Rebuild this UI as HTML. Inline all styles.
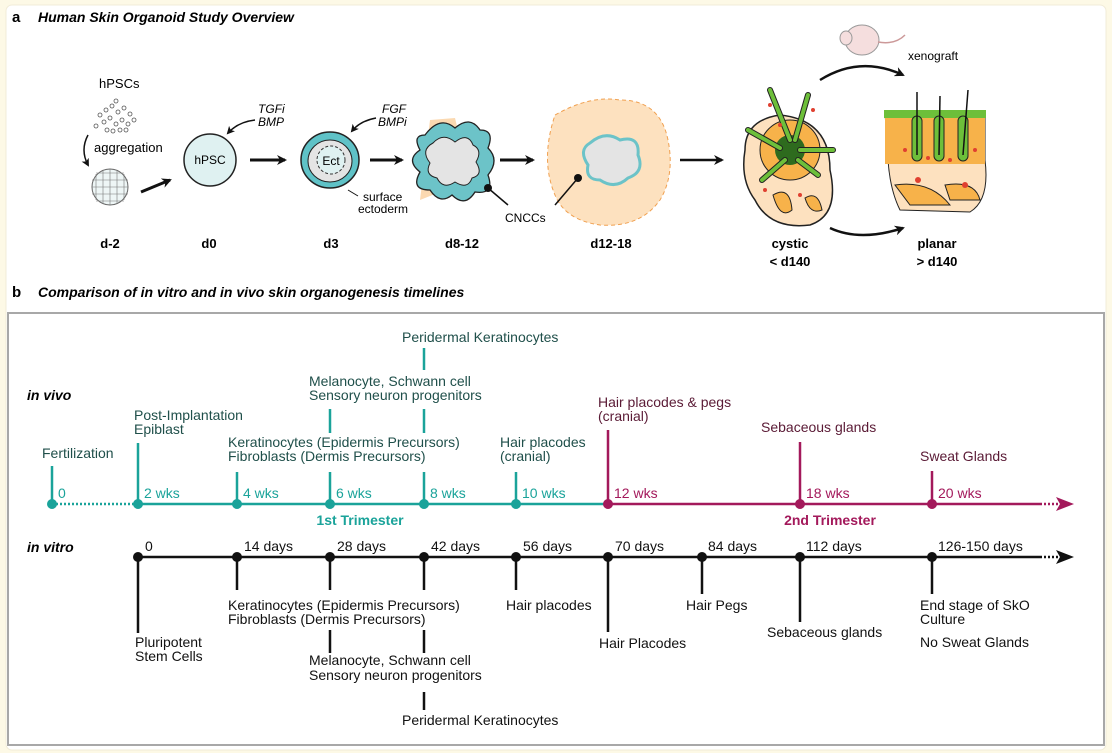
<!DOCTYPE html>
<html><head><meta charset="utf-8"><style>
html,body{margin:0;padding:0;background:#fdf9e6;}
svg{display:block;font-family:"Liberation Sans",Arial,sans-serif;}
</style></head><body>
<svg width="1112" height="753" viewBox="0 0 1112 753" xmlns="http://www.w3.org/2000/svg">
<defs>
<marker id="ah" markerWidth="10" markerHeight="10" refX="8" refY="5" orient="auto" markerUnits="userSpaceOnUse"><path d="M0,0 L10,5 L0,10 L3,5 z" fill="#111"/></marker>
<marker id="ahs" markerWidth="8" markerHeight="8" refX="6" refY="4" orient="auto" markerUnits="userSpaceOnUse"><path d="M0,0 L8,4 L0,8 L2,4 z" fill="#111"/></marker>
</defs>
<rect x="6" y="5" width="1100" height="745" rx="6" fill="#fff" stroke="#f1ecd8"/>
<text x="12" y="22" font-size="15" font-weight="bold">a</text>
<text x="38" y="22" font-size="14" font-weight="bold" font-style="italic">Human Skin Organoid Study Overview</text>
<text x="12" y="297" font-size="15" font-weight="bold">b</text>
<text x="38" y="297" font-size="14" font-weight="bold" font-style="italic">Comparison of in vitro and in vivo skin organogenesis timelines</text>

<!-- panel a -->
<g font-size="13">
<text x="99" y="88">hPSCs</text>
<g fill="none" stroke="#555" stroke-width="0.8">
<circle cx="100" cy="115" r="2"/><circle cx="106" cy="110" r="2"/><circle cx="112" cy="106" r="2"/><circle cx="118" cy="112" r="2"/><circle cx="124" cy="108" r="2"/><circle cx="130" cy="114" r="2"/><circle cx="104" cy="122" r="2"/><circle cx="110" cy="118" r="2"/><circle cx="116" cy="124" r="2"/><circle cx="122" cy="120" r="2"/><circle cx="128" cy="124" r="2"/><circle cx="96" cy="126" r="2"/><circle cx="113" cy="131" r="2"/><circle cx="120" cy="130" r="2"/><circle cx="107" cy="130" r="2"/><circle cx="126" cy="130" r="2"/><circle cx="116" cy="101" r="2"/><circle cx="134" cy="120" r="2"/>
</g>
<path d="M88,135 Q80,150 88,165" fill="none" stroke="#111" stroke-width="1.5" marker-end="url(#ahs)"/>
<text x="94" y="152">aggregation</text>
<circle cx="110" cy="187" r="18" fill="#eef6f6" stroke="#666"/>
<g fill="none" stroke="#777" stroke-width="0.6">
<path d="M92,180 H128 M92,187 H128 M92,194 H128 M96,173 H124 M96,201 H124"/>
<path d="M103,170 V204 M110,169 V205 M117,170 V204 M96,174 V200 M124,174 V200"/>
</g>
<line x1="141" y1="192" x2="170" y2="180" stroke="#111" stroke-width="3" marker-end="url(#ah)"/>
<circle cx="210" cy="160" r="26" fill="#dff1f1" stroke="#222" stroke-width="1.5"/>
<text x="210" y="164" text-anchor="middle" font-size="12">hPSC</text>
<text x="258" y="113" font-style="italic" font-size="12">TGFi</text><text x="258" y="126" font-style="italic" font-size="12">BMP</text>
<path d="M255,120 Q238,122 228,133" fill="none" stroke="#111" stroke-width="1.5" marker-end="url(#ahs)"/>
<line x1="250" y1="160" x2="285" y2="160" stroke="#111" stroke-width="3" marker-end="url(#ah)"/>
<ellipse cx="330" cy="160" rx="29" ry="28" fill="#5fc2c7" stroke="#222" stroke-width="1.5"/>
<ellipse cx="330" cy="161" rx="22" ry="21" fill="#e4e4e4" stroke="#222"/>
<circle cx="331" cy="160" r="14" fill="#dff1f1" stroke="#333" stroke-dasharray="3,2"/>
<text x="331" y="165" text-anchor="middle" font-size="12">Ect</text>
<text x="382" y="113" font-style="italic" font-size="12">FGF</text><text x="378" y="126" font-style="italic" font-size="12">BMPi</text>
<path d="M376,118 Q360,121 352,131" fill="none" stroke="#111" stroke-width="1.5" marker-end="url(#ahs)"/>
<path d="M348,190 L358,196" stroke="#111"/>
<text x="363" y="201" font-size="12">surface</text><text x="358" y="213" font-size="12">ectoderm</text>
<line x1="370" y1="160" x2="402" y2="160" stroke="#111" stroke-width="3" marker-end="url(#ah)"/>
<path d="M430,120 L455,118 L470,180 L420,200 z" fill="#fbd9b1"/>
<path d="M425,135 Q440,115 455,128 Q470,115 480,130 Q495,130 488,148 Q500,160 488,175 Q495,195 475,192 Q465,208 452,195 Q440,205 430,190 Q410,190 420,172 Q405,160 420,150 Q412,135 425,135z" fill="#6cc3c8" stroke="#222" stroke-width="1.3"/>
<path d="M433,143 Q443,132 455,142 Q468,132 473,145 Q483,150 476,162 Q484,175 472,178 Q468,190 455,182 Q443,190 437,178 Q424,175 430,163 Q420,150 433,143z" fill="#e4e4e4" stroke="#222"/>
<circle cx="488" cy="188" r="4" fill="#111"/><line x1="488" y1="188" x2="508" y2="205" stroke="#111" stroke-width="1.5"/>
<text x="505" y="222" font-size="12">CNCCs</text>
<line x1="500" y1="160" x2="533" y2="160" stroke="#111" stroke-width="3" marker-end="url(#ah)"/>
<path d="M555,115 Q590,95 620,100 Q660,100 668,140 Q675,175 660,200 Q640,228 600,225 Q565,220 555,195 Q540,160 555,115z" fill="#fde1bf" stroke="#f0a050" stroke-dasharray="4,3"/>
<path d="M590,143 Q605,130 620,140 Q640,135 638,155 Q645,172 628,178 Q615,190 600,180 Q585,180 588,165 Q578,150 590,143z" fill="#e4e4e4" stroke="#6cc3c8" stroke-width="3"/>
<circle cx="578" cy="178" r="4" fill="#111"/><line x1="578" y1="178" x2="555" y2="205" stroke="#111" stroke-width="1.5"/>
<line x1="680" y1="160" x2="722" y2="160" stroke="#111" stroke-width="2.5" marker-end="url(#ah)"/>
<!-- cystic -->
<path d="M745,150 Q745,120 780,115 Q830,120 830,170 Q840,215 810,225 Q770,230 755,200 Q740,180 745,150z" fill="#fde1bf" stroke="#222" stroke-width="1.5"/>
<circle cx="790" cy="150" r="30" fill="#f7b24a" stroke="#222"/>
<circle cx="790" cy="150" r="15" fill="#2e6b1e"/>
<g stroke="#222" stroke-width="6" fill="none" stroke-linecap="round">
<path d="M790,140 L770,90 M795,140 L808,95 M780,148 L748,130 M800,150 L833,150 M785,160 L762,180 M798,160 L818,175"/>
</g>
<g stroke="#6dbf3a" stroke-width="4" fill="none" stroke-linecap="round">
<path d="M790,140 L770,90 M795,140 L808,95 M780,148 L748,130 M800,150 L833,150 M785,160 L762,180 M798,160 L818,175"/>
</g>
<path d="M773,195 Q790,185 792,210 Q780,220 773,195z M805,198 Q818,190 822,210 Q810,215 805,198z" fill="#f7b24a" stroke="#222"/>
<g fill="#e04030"><circle cx="770" cy="105" r="2"/><circle cx="813" cy="110" r="2"/><circle cx="765" cy="190" r="2"/><circle cx="800" cy="195" r="2"/><circle cx="780" cy="125" r="2"/></g>
<path d="M820,80 Q860,55 903,75" fill="none" stroke="#111" stroke-width="2.5" marker-end="url(#ah)"/>
<ellipse cx="862" cy="40" rx="17" ry="15" fill="#f5dede" stroke="#999"/>
<ellipse cx="846" cy="38" rx="6" ry="7" fill="#f5dede" stroke="#999"/>
<path d="M878,42 Q895,45 905,35" fill="none" stroke="#c99" stroke-width="1.5"/>
<text x="908" y="60" font-size="12">xenograft</text>
<!-- planar -->
<path d="M885,112 L985,112 L985,160 Q990,200 970,212 L900,210 Q890,190 888,160z" fill="#fde1bf" stroke="#222"/>
<rect x="885" y="118" width="100" height="46" fill="#f7b24a"/>
<rect x="884" y="110" width="102" height="8" fill="#6dbf3a"/>
<g fill="#6dbf3a" stroke="#222"><rect x="912" y="116" width="10" height="45" rx="5"/><rect x="934" y="116" width="10" height="45" rx="5"/><rect x="958" y="116" width="10" height="45" rx="5"/></g>
<g stroke="#111" stroke-width="1.5"><line x1="917" y1="155" x2="917" y2="92"/><line x1="939" y1="155" x2="940" y2="96"/><line x1="963" y1="155" x2="968" y2="90"/></g>
<path d="M895,185 Q930,180 950,205 L910,205z M945,185 Q975,180 980,200 L950,200z" fill="#f7b24a" stroke="#222"/>
<g fill="#e04030"><circle cx="905" cy="150" r="2"/><circle cx="928" cy="158" r="2"/><circle cx="950" cy="160" r="2"/><circle cx="975" cy="150" r="2"/><circle cx="965" cy="185" r="3"/><circle cx="918" cy="180" r="3"/></g>
<path d="M830,228 Q860,242 903,228" fill="none" stroke="#111" stroke-width="2.5" marker-end="url(#ah)"/>
</g>
<g font-size="13" font-weight="bold" text-anchor="middle">
<text x="110" y="248">d-2</text><text x="209" y="248">d0</text><text x="331" y="248">d3</text><text x="462" y="248">d8-12</text><text x="611" y="248">d12-18</text>
<text x="790" y="248">cystic</text><text x="790" y="266">&lt; d140</text>
<text x="937" y="248">planar</text><text x="937" y="266">&gt; d140</text>
</g>

<!-- panel b -->
<rect x="8" y="313" width="1096" height="432" fill="#fff" stroke="#a8a8a8" stroke-width="2"/>
<g font-size="14">
<text x="27" y="400" font-weight="bold" font-style="italic">in vivo</text>
<text x="27" y="552" font-weight="bold" font-style="italic">in vitro</text>
<line x1="52" y1="504" x2="138" y2="504" stroke="#1aa39a" stroke-width="2.5" stroke-dasharray="2,2"/>
<line x1="138" y1="504" x2="608" y2="504" stroke="#1aa39a" stroke-width="2.5"/>
<line x1="608" y1="504" x2="1040" y2="504" stroke="#a3195b" stroke-width="2.5"/>
<line x1="1040" y1="504" x2="1060" y2="504" stroke="#a3195b" stroke-width="2.5" stroke-dasharray="2,2"/>
<path d="M1056,497 L1074,504 L1056,511 L1060,504z" fill="#a3195b"/>
<g stroke="#1aa39a" stroke-width="2.5">
<line x1="52" y1="466" x2="52" y2="504"/><line x1="138" y1="443" x2="138" y2="504"/><line x1="237" y1="472" x2="237" y2="504"/>
<line x1="330" y1="472" x2="330" y2="504"/><line x1="330" y1="409" x2="330" y2="433"/>
<line x1="424" y1="472" x2="424" y2="504"/><line x1="424" y1="409" x2="424" y2="433"/><line x1="424" y1="348" x2="424" y2="370"/>
<line x1="516" y1="472" x2="516" y2="504"/>
</g>
<g stroke="#a3195b" stroke-width="2.5"><line x1="608" y1="430" x2="608" y2="504"/><line x1="800" y1="442" x2="800" y2="504"/><line x1="932" y1="471" x2="932" y2="504"/></g>
<g fill="#1aa39a"><circle cx="52" cy="504" r="5"/><circle cx="138" cy="504" r="5"/><circle cx="237" cy="504" r="5"/><circle cx="330" cy="504" r="5"/><circle cx="424" cy="504" r="5"/><circle cx="516" cy="504" r="5"/></g>
<g fill="#a3195b"><circle cx="608" cy="504" r="5"/><circle cx="800" cy="504" r="5"/><circle cx="932" cy="504" r="5"/></g>
<g fill="#1aa39a"><text x="58" y="498">0</text><text x="144" y="498">2 wks</text><text x="243" y="498">4 wks</text><text x="336" y="498">6 wks</text><text x="430" y="498">8 wks</text><text x="522" y="498">10 wks</text>
<text x="360" y="525" font-weight="bold" text-anchor="middle">1st Trimester</text></g>
<g fill="#a3195b"><text x="614" y="498">12 wks</text><text x="806" y="498">18 wks</text><text x="938" y="498">20 wks</text>
<text x="830" y="525" font-weight="bold" text-anchor="middle">2nd Trimester</text></g>
<g fill="#1f4f4a">
<text x="42" y="458">Fertilization</text>
<text x="134" y="420">Post-Implantation</text><text x="134" y="434">Epiblast</text>
<text x="228" y="447">Keratinocytes (Epidermis Precursors)</text><text x="228" y="461">Fibroblasts (Dermis Precursors)</text>
<text x="309" y="386">Melanocyte, Schwann cell</text><text x="309" y="400">Sensory neuron progenitors</text>
<text x="402" y="342">Peridermal Keratinocytes</text>
<text x="500" y="447">Hair placodes</text><text x="500" y="461">(cranial)</text>
</g>
<g fill="#5a1a35">
<text x="598" y="407">Hair placodes &amp; pegs</text><text x="598" y="421">(cranial)</text>
<text x="761" y="432">Sebaceous glands</text>
<text x="920" y="461">Sweat Glands</text>
</g>
<line x1="138" y1="557" x2="1040" y2="557" stroke="#111" stroke-width="2.5"/>
<line x1="1040" y1="557" x2="1060" y2="557" stroke="#111" stroke-width="2.5" stroke-dasharray="2,2"/>
<path d="M1056,550 L1074,557 L1056,564 L1060,557z" fill="#111"/>
<g stroke="#111" stroke-width="2.5">
<line x1="138" y1="557" x2="138" y2="633"/><line x1="237" y1="557" x2="237" y2="590"/>
<line x1="330" y1="557" x2="330" y2="590"/><line x1="330" y1="630" x2="330" y2="653"/>
<line x1="424" y1="557" x2="424" y2="590"/><line x1="424" y1="630" x2="424" y2="653"/><line x1="424" y1="692" x2="424" y2="710"/>
<line x1="516" y1="557" x2="516" y2="590"/><line x1="608" y1="557" x2="608" y2="632"/>
<line x1="702" y1="557" x2="702" y2="594"/><line x1="800" y1="557" x2="800" y2="622"/><line x1="932" y1="557" x2="932" y2="594"/>
</g>
<g fill="#111"><circle cx="138" cy="557" r="5"/><circle cx="237" cy="557" r="5"/><circle cx="330" cy="557" r="5"/><circle cx="424" cy="557" r="5"/><circle cx="516" cy="557" r="5"/><circle cx="608" cy="557" r="5"/><circle cx="702" cy="557" r="5"/><circle cx="800" cy="557" r="5"/><circle cx="932" cy="557" r="5"/></g>
<g fill="#111">
<text x="145" y="551">0</text><text x="244" y="551">14 days</text><text x="337" y="551">28 days</text><text x="431" y="551">42 days</text><text x="523" y="551">56 days</text>
<text x="615" y="551">70 days</text><text x="708" y="551">84 days</text><text x="806" y="551">112 days</text><text x="938" y="551">126-150 days</text>
<text x="135" y="647">Pluripotent</text><text x="135" y="661">Stem Cells</text>
<text x="228" y="610">Keratinocytes (Epidermis Precursors)</text><text x="228" y="624">Fibroblasts (Dermis Precursors)</text>
<text x="309" y="665">Melanocyte, Schwann cell</text><text x="309" y="680">Sensory neuron progenitors</text>
<text x="402" y="725">Peridermal Keratinocytes</text>
<text x="506" y="610">Hair placodes</text>
<text x="599" y="648">Hair Placodes</text>
<text x="686" y="610">Hair Pegs</text>
<text x="767" y="637">Sebaceous glands</text>
<text x="920" y="610">End stage of SkO</text><text x="920" y="624">Culture</text>
<text x="920" y="647">No Sweat Glands</text>
</g>
</g>
</svg>
</body></html>
